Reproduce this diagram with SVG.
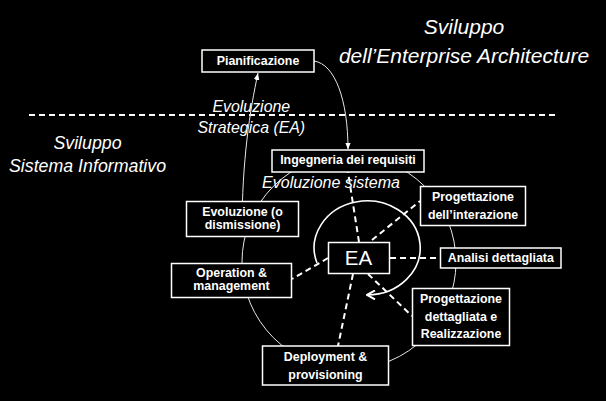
<svg xmlns="http://www.w3.org/2000/svg" width="606" height="401" viewBox="0 0 606 401">
<style>
.box{fill:#000;stroke:#fff;stroke-width:1.5}
.lbl{font-family:"Liberation Sans",Arial,sans-serif;font-weight:bold;font-size:12.4px;fill:#fff;text-anchor:middle}
.it{font-family:"Liberation Sans",Arial,sans-serif;font-style:italic;fill:#fff;text-anchor:middle}
.thin{fill:none;stroke:#e6e6e6;stroke-width:1}
.dash{fill:none;stroke:#fff;stroke-width:2;stroke-dasharray:6 4}
</style>
<defs>
<marker id="tri" markerUnits="userSpaceOnUse" viewBox="0 0 10 10" refX="10" refY="5" markerWidth="7" markerHeight="7" orient="auto">
<path d="M0,1 L10,5 L0,9 Z" fill="#fff"/>
</marker>
<marker id="chev" markerUnits="userSpaceOnUse" viewBox="0 0 10 10" refX="9" refY="5" markerWidth="10" markerHeight="10" orient="auto">
<path d="M1,0.5 L9,5 L1,9.5" fill="none" stroke="#fff" stroke-width="2"/>
</marker>
</defs>
<rect x="0" y="0" width="606" height="401" fill="#000"/>

<g id="titles">
<text class="it" x="464" y="34" font-size="21">Sviluppo</text>
<text class="it" x="464" y="62.5" font-size="21">dell’Enterprise Architecture</text>
<text class="it" x="87.5" y="149.3" font-size="17.8">Sviluppo</text>
<text class="it" x="87.5" y="171.5" font-size="17.8">Sistema Informativo</text>
<text class="it" x="251.3" y="111.7" font-size="15.9">Evoluzione</text>
<text class="it" x="251.3" y="132.7" font-size="15.9">Strategica (EA)</text>
<text class="it" x="331" y="188.3" font-size="16">Evoluzione sistema</text>
</g>

<line id="separator" x1="29" y1="115" x2="557" y2="115" stroke="#fff" stroke-width="2" stroke-dasharray="6 4"/>

<g id="connectors">
<circle class="thin" cx="349" cy="262" r="107"/>
<path class="thin" d="M242,230 C242,160 250,110 258,73" marker-end="url(#tri)"/>
<path class="thin" d="M314,61 C335,64 348,100 348,149.5" marker-end="url(#tri)"/>
<line class="dash" x1="359" y1="242" x2="348" y2="172"/>
<line class="dash" x1="372" y1="240" x2="420" y2="201"/>
<line class="dash" x1="390" y1="258" x2="440" y2="258"/>
<line class="dash" x1="368" y1="274" x2="412" y2="316"/>
<line class="dash" x1="353" y1="274" x2="338" y2="346"/>
<line class="dash" x1="328" y1="258" x2="292" y2="279"/>
<path d="M317,263 A53,47 0 1 1 367,294.9" fill="none" stroke="#fff" stroke-width="1.6" marker-end="url(#chev)"/>
</g>

<g id="pianificazione">
<rect class="box" x="202" y="50" width="112" height="22"/>
<text class="lbl" x="258" y="65">Pianificazione</text>
</g>
<g id="ingegneria">
<rect class="box" x="272" y="150" width="152" height="22"/>
<text class="lbl" x="348" y="164.3">Ingegneria dei requisiti</text>
</g>
<g id="evoluzione">
<rect class="box" x="186.5" y="201.5" width="112" height="35"/>
<text class="lbl" x="242.5" y="215.8">Evoluzione (o</text>
<text class="lbl" x="242.5" y="229">dismissione)</text>
</g>
<g id="operation">
<rect class="box" x="171.5" y="263.5" width="120" height="34"/>
<text class="lbl" x="231.5" y="277.3">Operation &amp;</text>
<text class="lbl" x="231.5" y="290.3">management</text>
</g>
<g id="deployment">
<rect class="box" x="262.5" y="346" width="126" height="39"/>
<text class="lbl" x="325.5" y="360.7">Deployment &amp;</text>
<text class="lbl" x="325.5" y="378.7">provisioning</text>
</g>
<g id="progdett">
<rect class="box" x="412.5" y="288.5" width="97" height="57"/>
<text class="lbl" x="461" y="302.8">Progettazione</text>
<text class="lbl" x="461" y="320.7">dettagliata e</text>
<text class="lbl" x="461" y="338.4">Realizzazione</text>
</g>
<g id="analisi">
<rect class="box" x="440.5" y="248" width="120.5" height="20"/>
<text class="lbl" x="500.8" y="262.3">Analisi dettagliata</text>
</g>
<g id="progint">
<rect class="box" x="420.5" y="186.5" width="105" height="39"/>
<text class="lbl" x="473" y="201.2">Progettazione</text>
<text class="lbl" x="473" y="218.8">dell’interazione</text>
</g>
<g id="ea">
<rect class="box" x="328.5" y="242.5" width="61" height="31"/>
<text x="358.5" y="265.3" font-family="Liberation Sans,Arial,sans-serif" font-size="20.5" fill="#fff" text-anchor="middle">EA</text>
</g>
</svg>
